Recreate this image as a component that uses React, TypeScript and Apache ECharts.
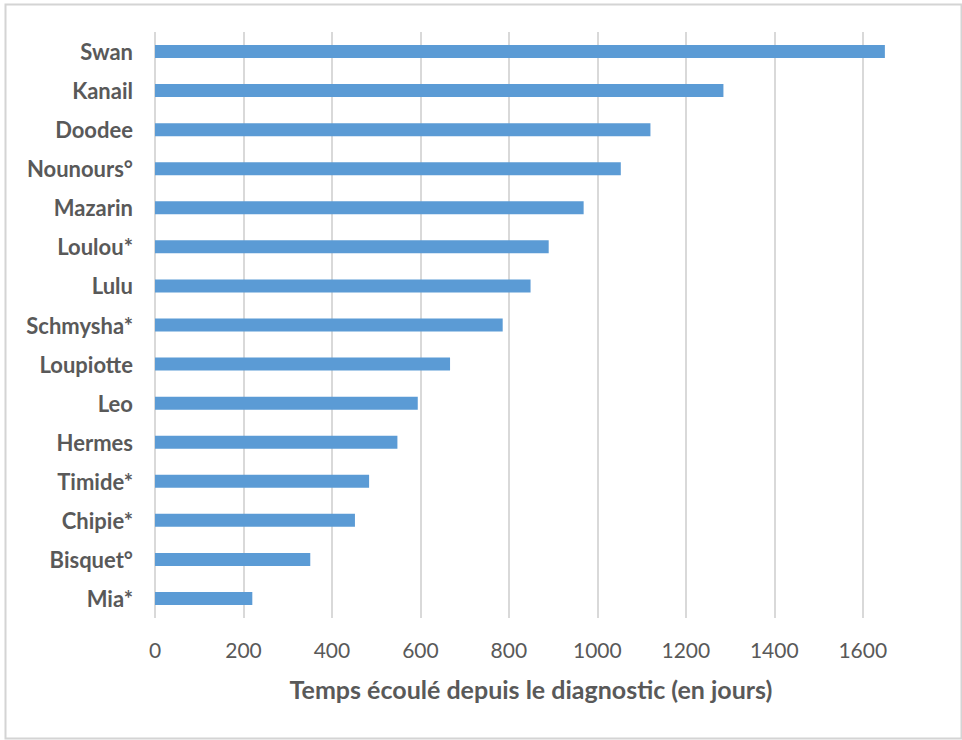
import React, { useEffect, useRef } from "react";
import * as echarts from "echarts";

const categories = [
  "Swan",
  "Kanail",
  "Doodee",
  "Nounours°",
  "Mazarin",
  "Loulou*",
  "Lulu",
  "Schmysha*",
  "Loupiotte",
  "Leo",
  "Hermes",
  "Timide*",
  "Chipie*",
  "Bisquet°",
  "Mia*",
];

const daysSinceDiagnosis = [1650, 1285, 1120, 1053, 969, 890, 849, 786, 667, 594, 548, 484, 452, 351, 220];

const axisTitle = "Temps écoulé depuis le diagnostic (en jours)";

export default function App() {
  const ref = useRef<HTMLDivElement>(null);

  useEffect(() => {
    if (!ref.current) return;
    const chart = echarts.init(ref.current, null, { renderer: "svg" });
    chart.setOption({
      animation: false,
      backgroundColor: "#ffffff",
      textStyle: { fontFamily: "Lato" },
      graphic: [
        {
          type: "rect",
          left: 3,
          top: 2,
          shape: { x: 0, y: 0, width: 956, height: 734 },
          style: { fill: "none", stroke: "#d4d4d4", lineWidth: 2 },
          silent: true,
          z: -1,
        },
      ],
      grid: { left: 155, right: 55, top: 32, bottom: 122, containLabel: false },
      xAxis: {
        type: "value",
        min: 0,
        max: 1700,
        interval: 200,
        name: axisTitle,
        nameLocation: "middle",
        nameGap: 58,
        nameTextStyle: {
          fontFamily: "Lato",
          fontWeight: "bold",
          fontSize: 25,
          color: "#595959",
        },
        axisLine: { show: false },
        axisTick: { show: false },
        axisLabel: {
          showMaxLabel: false,
          margin: 21,
          fontFamily: "Lato",
          fontSize: 21,
          color: "#595959",
          formatter: (v: number) => String(v),
        },
        splitLine: {
          show: true,
          showMaxLine: false,
          lineStyle: { color: "#d9d9d9", width: 2 },
        },
      },
      yAxis: {
        type: "category",
        data: categories,
        inverse: true,
        axisLine: { show: false },
        axisTick: { show: false },
        axisLabel: {
          margin: 22,
          fontFamily: "Lato",
          fontWeight: "bold",
          fontSize: 22,
          color: "#595959",
        },
        splitLine: { show: false },
      },
      series: [
        {
          type: "bar",
          data: daysSinceDiagnosis,
          barWidth: 13,
          itemStyle: { color: "#5B9BD5" },
        },
      ],
    });
    return () => chart.dispose();
  }, []);

  return (
    <div
      ref={ref}
      style={{ position: "absolute", left: 0, top: 0, width: 962, height: 740 }}
    />
  );
}
